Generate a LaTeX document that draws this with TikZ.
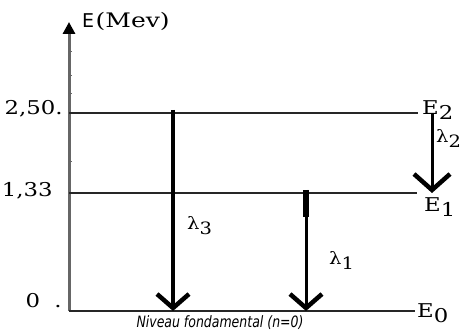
\documentclass[tikz,border=0pt]{standalone}
\usepackage{fontspec}
\usetikzlibrary{arrows.meta}
\newfontfamily\lvlfont{DejaVu Serif}
\newfontfamily\capfont{DejaVu Sans}
\newcommand{\lowidx}[1]{\raisebox{-5pt}{#1}}
\tikzset{
  axis/.style={draw=black!60, line width=3pt, -{Triangle[length=12pt,width=12pt,color=black]}},
  axtick/.style={draw=black!60, line width=1pt},
  lvl/.style={draw=black!85, line width=1.3pt},                      % energy level
  tr/.style={draw=black, line cap=butt,
             -{Straight Barb[length=14pt,width=32pt,line width=4.5pt]}}, % transition
  num/.style={font=\lvlfont\fontsize{19}{21}\selectfont, inner sep=0pt,
              xscale=1.2, transform shape},
  lam/.style={font=\lvlfont\fontsize{17}{19}\selectfont, inner sep=0pt,
              xscale=1.15, transform shape},
}
\begin{document}
\begin{tikzpicture}[x=1pt,y=1pt]
  \useasboundingbox (0,0) rectangle (465,331);
  % axis
  \coordinate (o) at (69,20);
  \coordinate (top) at (69,309);
  \draw[axis] (o) -- (top);
  \foreach \t in {279,255,237,169}
    \draw[axtick] (69,\t) -- (72,\t);
  \node[anchor=base west, inner sep=0pt, font=\capfont\fontsize{19}{21}\selectfont]
    (unitE) at (82,303) {E};
  \node[anchor=base west, inner sep=0pt, font=\lvlfont\fontsize{20}{22}\selectfont,
        xscale=1.25, transform shape] (unitM) at ([xshift=1pt]unitE.base east) {(Mev)};
  % levels
  \coordinate (l2a) at (69,218);  \coordinate (l2b) at (418,218);
  \coordinate (l1a) at (69,138);  \coordinate (l1b) at (417,138);
  \coordinate (l0a) at (69,20);   \coordinate (l0b) at (415,20);
  \draw[lvl] (l2a) -- (l2b);
  \draw[lvl] (l1a) -- (l1b);
  \draw[lvl] (l0a) -- (l0b);
  \node[num, anchor=base east] (v2) at (63,216) {2,50.};
  \node[num, anchor=base east] (v1) at (53,134) {1,33};
  \node[num, anchor=base east] (v0) at (62,23)  {0~~.};
  \node[num, anchor=base west] (e2) at (422,216) {E\lowidx{2}};
  \node[num, anchor=base west] (e1) at (424,119) {E\lowidx{1}};
  \node[num, anchor=base west] (e0) at (417,13)  {E\lowidx{0}};
  % transitions
  \coordinate (t3a) at (173,221); \coordinate (t3b) at (173,20);
  \coordinate (t1a) at (306,141); \coordinate (t1m) at (306,114);
  \coordinate (t1b) at (306,20);
  \coordinate (t2a) at (432,218); \coordinate (t2b) at (432,138);
  \draw[tr, line width=4.5pt] (t3a) -- (t3b);
  \draw[tr, line width=3pt] (t1a) -- (t1b);
  \draw[line width=5.5pt] (t1a) -- (t1m);
  \draw[tr, line width=3pt,
        -{Straight Barb[length=16pt,width=36pt,line width=4.5pt]}] (t2a) -- (t2b);
  \node[lam, anchor=base west] (lam3) at (187,101) {λ\lowidx{3}};
  \node[lam, anchor=base west] (lam1) at (329,66)  {λ\lowidx{1}};
  \node[lam, anchor=base west] (lam2) at (436,188) {λ\lowidx{2}};
  \node[font=\capfont\itshape\fontsize{12.5}{14}\selectfont, inner sep=0pt,
        anchor=base, yscale=1.25, transform shape] (nv) at (220,3.5) {Niveau fondamental (n=0)};
\end{tikzpicture}
\end{document}
